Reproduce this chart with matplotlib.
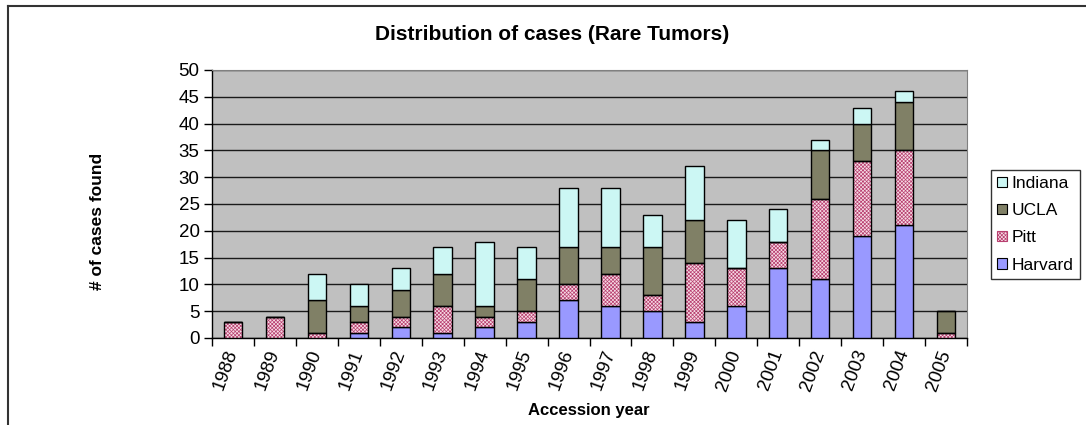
import matplotlib
matplotlib.use("Agg")
import matplotlib.pyplot as plt
import numpy as np
from matplotlib.patches import Patch
from matplotlib.lines import Line2D

years = ["1988", "1989", "1990", "1991", "1992", "1993", "1994", "1995", "1996",
         "1997", "1998", "1999", "2000", "2001", "2002", "2003", "2004", "2005"]
harvard = [0, 0, 0, 1, 2, 1, 2, 3, 7, 6, 5, 3, 6, 13, 11, 19, 21, 0]
pitt    = [3, 4, 1, 2, 2, 5, 2, 2, 3, 6, 3, 11, 7, 5, 15, 14, 14, 1]
ucla    = [0, 0, 6, 3, 5, 6, 2, 6, 7, 5, 9, 8, 0, 0, 9, 7, 9, 4]
indiana = [0, 0, 5, 4, 4, 5, 12, 6, 11, 11, 6, 10, 9, 6, 2, 3, 2, 0]

plt.rcParams['font.family'] = ['Liberation Sans', 'DejaVu Sans']
plt.rcParams['hatch.linewidth'] = 0.5

W, H = 1086, 425
fig = plt.figure(figsize=(W / 100, H / 100), dpi=100)
ax = fig.add_axes([212 / W, 1 - 338 / H, (967 - 212) / W, (338 - 70) / H])
ax.set_facecolor('#C0C0C0')

x = np.arange(len(years))
bw = 0.44
c_harv = '#9999FF'
c_pitt = '#F6DAE4'
c_pitt_h = '#B84070'
c_ucla = '#808066'
c_ind = '#CCF7F4'

h = np.array(harvard)
p = np.array(pitt)
u = np.array(ucla)
i = np.array(indiana)

ax.bar(x, h, bw, color=c_harv, edgecolor='black', linewidth=1.0, zorder=3)
ax.bar(x, p, bw, bottom=h, color=c_pitt, edgecolor=c_pitt_h, hatch='xxxxxxxxx',
       linewidth=0, zorder=3)
ax.bar(x, p, bw, bottom=h, fill=False, edgecolor='black', linewidth=1.0, zorder=4)
ax.bar(x, u, bw, bottom=h + p, color=c_ucla, edgecolor='black', linewidth=1.0, zorder=3)
ax.bar(x, i, bw, bottom=h + p + u, color=c_ind, edgecolor='black', linewidth=1.0, zorder=3)

ax.set_xlim(-0.5, len(years) - 0.5)
ax.set_ylim(0, 50)
ax.set_yticks(np.arange(0, 51, 5))
ax.yaxis.grid(True, color='#1a1a1a', linewidth=1.0, zorder=1)
ax.set_axisbelow(True)
ax.tick_params(axis='y', direction='out', length=6, width=1, labelsize=13.5, pad=3)

ax.set_xticks(np.arange(-0.5, len(years), 1.0))
ax.set_xticklabels([])
ax.tick_params(axis='x', which='major', direction='out', length=6, width=1)
ax.set_xticks(x, minor=True)
ax.set_xticklabels(years, minor=True, rotation=70, rotation_mode='anchor',
                   ha='right', va='center', fontsize=13.5)
ax.tick_params(axis='x', which='minor', length=0, pad=9)

for s in ['top', 'right']:
    ax.spines[s].set_color('#808080')
for s in ['left', 'bottom']:
    ax.spines[s].set_color('black')
    ax.spines[s].set_linewidth(1.0)

fig.text(552 / W, 1 - 34 / H, 'Distribution of cases (Rare Tumors)', ha='center',
         va='center', fontsize=15, fontweight='bold')
fig.text(589 / W, 1 - 411 / H, 'Accession year', ha='center', va='center',
         fontsize=12, fontweight='bold')
fig.text(97 / W, 1 - 221 / H, '# of cases found', ha='center', va='center',
         rotation=90, fontsize=12.5, fontweight='bold')

handles = [
    Patch(facecolor=c_ind, edgecolor='black', linewidth=0.8),
    Patch(facecolor=c_ucla, edgecolor='black', linewidth=0.8),
    Patch(facecolor=c_pitt, edgecolor=c_pitt_h, hatch='xxxxxxxxx', linewidth=0.8),
    Patch(facecolor=c_harv, edgecolor='black', linewidth=0.8),
]
leg = fig.legend(handles, ['Indiana', 'UCLA', 'Pitt', 'Harvard'],
                 loc='upper left', bbox_to_anchor=(991 / W, 1 - 170 / H),
                 fontsize=12.5, frameon=True, fancybox=False, edgecolor='black',
                 handlelength=0.55, handleheight=0.55, handletextpad=0.3,
                 labelspacing=0.7, borderpad=0.35, borderaxespad=0)
leg.get_frame().set_linewidth(1.0)

# chart-area border (top and left visible)
fig.add_artist(Line2D([8 / W, 1.0], [1 - 6 / H, 1 - 6 / H], color='#333333', linewidth=1.5))
fig.add_artist(Line2D([8 / W, 8 / W], [1 - 6 / H, 0.0], color='#333333', linewidth=1.5))

fig.savefig('out.png', dpi=100)
